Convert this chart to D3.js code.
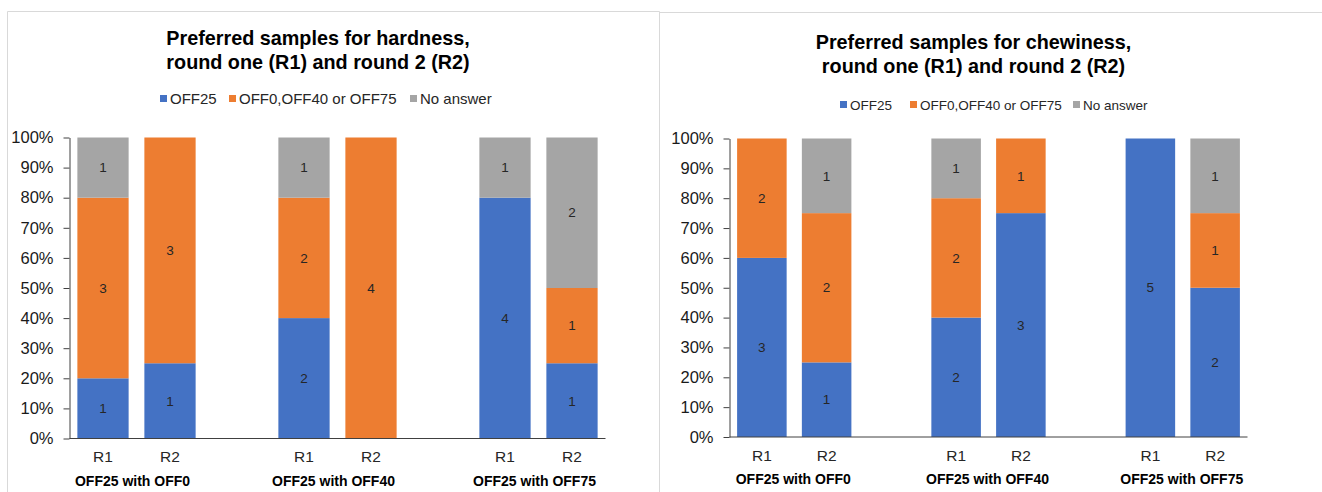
<!DOCTYPE html>
<html>
<head>
<meta charset="utf-8">
<script src="https://cdn.jsdelivr.net/npm/d3@7/dist/d3.min.js"></script>
<style>
  html, body { margin: 0; padding: 0; background: #fff; }
  svg { display: block; font-family: "Liberation Sans", Arial, sans-serif; }
</style>
</head>
<body>
<svg id="chart" width="1322" height="492"></svg>
<script>
// ---------- DATA ----------
const groups = ["OFF25 with OFF0", "OFF25 with OFF40", "OFF25 with OFF75"];
const rounds = ["R1", "R2"];
const seriesNames = ["OFF25", "OFF0,OFF40 or OFF75", "No answer"];
const seriesColors = ["#4472C4", "#ED7D31", "#A5A5A5"];
const yTickValues = [0, 0.1, 0.2, 0.3, 0.4, 0.5, 0.6, 0.7, 0.8, 0.9, 1.0];

// counts per bar, order: OFF0 R1, OFF0 R2, OFF40 R1, OFF40 R2, OFF75 R1, OFF75 R2
const hardnessOFF25    = [1, 1, 2, 0, 4, 1];
const hardnessOther    = [3, 3, 2, 4, 0, 1];
const hardnessNoAnswer = [1, 0, 1, 0, 1, 2];

const chewinessOFF25    = [3, 1, 2, 3, 5, 2];
const chewinessOther    = [2, 2, 2, 1, 0, 1];
const chewinessNoAnswer = [0, 1, 1, 0, 0, 1];

const titleHardness  = ["Preferred samples for hardness,", "round one (R1) and round 2 (R2)"];
const titleChewiness = ["Preferred samples for chewiness,", "round one (R1) and round 2 (R2)"];

// ---------- DRAW ----------
const svg = d3.select("#chart");

// frames
svg.append("path").attr("d", "M7.5,492 V11.5 H659.5 V492")
  .attr("fill", "none").attr("stroke", "#d9d9d9").attr("stroke-width", 1);
svg.append("path").attr("d", "M659.5,12.5 H1322")
  .attr("fill", "none").attr("stroke", "#d9d9d9").attr("stroke-width", 1);

function drawChart(cfg) {
  const g = svg.append("g");
  const seriesData = [cfg.s0, cfg.s1, cfg.s2];

  // build slots: R1, R2, gap, R1, R2, gap, R1, R2
  const slots = [];
  groups.forEach((grp, gi) => {
    rounds.forEach(r => slots.push(grp + "|" + r));
    if (gi < groups.length - 1) slots.push("gap" + gi);
  });

  const x = d3.scaleBand().domain(slots)
    .range([cfg.x0, cfg.x1]).paddingInner(0.235).paddingOuter(0.1175);
  const y = d3.scaleLinear().domain([0, 1]).range([cfg.y0, cfg.y1]);

  // stacked data
  const bars = [];
  groups.forEach((grp, gi) => {
    rounds.forEach((r, ri) => {
      const idx = gi * 2 + ri;
      const total = d3.sum(seriesData, s => s[idx]);
      let acc = 0;
      seriesData.forEach((s, si) => {
        const v = s[idx];
        const p0 = acc / total, p1 = (acc + v) / total;
        acc += v;
        bars.push({ key: grp + "|" + r, si, v, p0, p1 });
      });
    });
  });

  g.selectAll("rect.bar").data(bars.filter(d => d.v > 0)).join("rect")
    .attr("class", "bar")
    .attr("x", d => x(d.key))
    .attr("width", x.bandwidth())
    .attr("y", d => y(d.p1))
    .attr("height", d => y(d.p0) - y(d.p1))
    .attr("fill", d => seriesColors[d.si]);

  g.selectAll("text.dl").data(bars.filter(d => d.v > 0)).join("text")
    .attr("class", "dl")
    .attr("x", d => x(d.key) + x.bandwidth() / 2)
    .attr("y", d => (y(d.p0) + y(d.p1)) / 2)
    .attr("dy", "0.35em")
    .attr("text-anchor", "middle")
    .attr("font-size", 13.5)
    .attr("fill", "#262626")
    .text(d => d.v);

  // y axis
  const yAxis = g.append("g").attr("transform", `translate(${cfg.x0},0)`)
    .call(d3.axisLeft(y).tickValues(yTickValues).tickFormat(d3.format(".0%")).tickSize(6).tickSizeOuter(0).tickPadding(10));
  yAxis.select(".domain").attr("stroke", "#404040");
  yAxis.selectAll(".tick line").attr("stroke", "#404040");
  yAxis.selectAll(".tick text").attr("font-size", 16.5).attr("fill", "#1a1a1a")
    .attr("font-family", "Liberation Sans, Arial, sans-serif");

  // x axis line
  g.append("line").attr("x1", cfg.x0).attr("x2", cfg.x1)
    .attr("y1", y(0)).attr("y2", y(0)).attr("stroke", "#404040");

  // round labels
  g.selectAll("text.rl").data(slots.filter(s => !s.startsWith("gap"))).join("text")
    .attr("class", "rl")
    .attr("x", d => x(d) + x.bandwidth() / 2)
    .attr("y", cfg.roundY)
    .attr("text-anchor", "middle")
    .attr("font-size", 15.5)
    .attr("fill", "#262626")
    .text(d => d.split("|")[1]);

  // group labels
  g.selectAll("text.gl").data(groups).join("text")
    .attr("class", "gl")
    .attr("x", d => (x(d + "|R1") + x(d + "|R2") + x.bandwidth()) / 2 + cfg.groupDx)
    .attr("y", cfg.groupY)
    .attr("text-anchor", "middle")
    .attr("font-size", 14)
    .attr("font-weight", "bold")
    .attr("fill", "#000")
    .text(d => d);

  // title
  g.selectAll("text.title").data(cfg.title).join("text")
    .attr("class", "title")
    .attr("x", cfg.titleX)
    .attr("y", (d, i) => cfg.titleY + i * 24)
    .attr("text-anchor", "middle")
    .attr("font-size", 19.8)
    .attr("font-weight", "bold")
    .attr("fill", "#000")
    .text(d => d);

  // legend
  const lg = g.append("g");
  seriesNames.forEach((name, i) => {
    const lx = cfg.legendX[i];
    lg.append("rect").attr("x", lx).attr("y", cfg.legendY - 9)
      .attr("width", 7).attr("height", 7).attr("fill", seriesColors[i]);
    lg.append("text").attr("x", lx + 10).attr("y", cfg.legendY)
      .attr("font-size", cfg.legendSize).attr("fill", "#262626").text(name);
  });
}

drawChart({
  s0: hardnessOFF25, s1: hardnessOther, s2: hardnessNoAnswer,
  x0: 69.5, x1: 605.5, y0: 438.5, y1: 137.5,
  roundY: 462, groupY: 486, groupDx: -4,
  title: titleHardness, titleX: 318, titleY: 45,
  legendX: [160, 229, 410], legendY: 104, legendSize: 15
});

drawChart({
  s0: chewinessOFF25, s1: chewinessOther, s2: chewinessNoAnswer,
  x0: 729.5, x1: 1247.5, y0: 437, y1: 138.5,
  roundY: 461, groupY: 484, groupDx: -1,
  title: titleChewiness, titleX: 973.5, titleY: 49,
  legendX: [840, 910, 1073], legendY: 110, legendSize: 13.5
});
</script>
</body>
</html>
